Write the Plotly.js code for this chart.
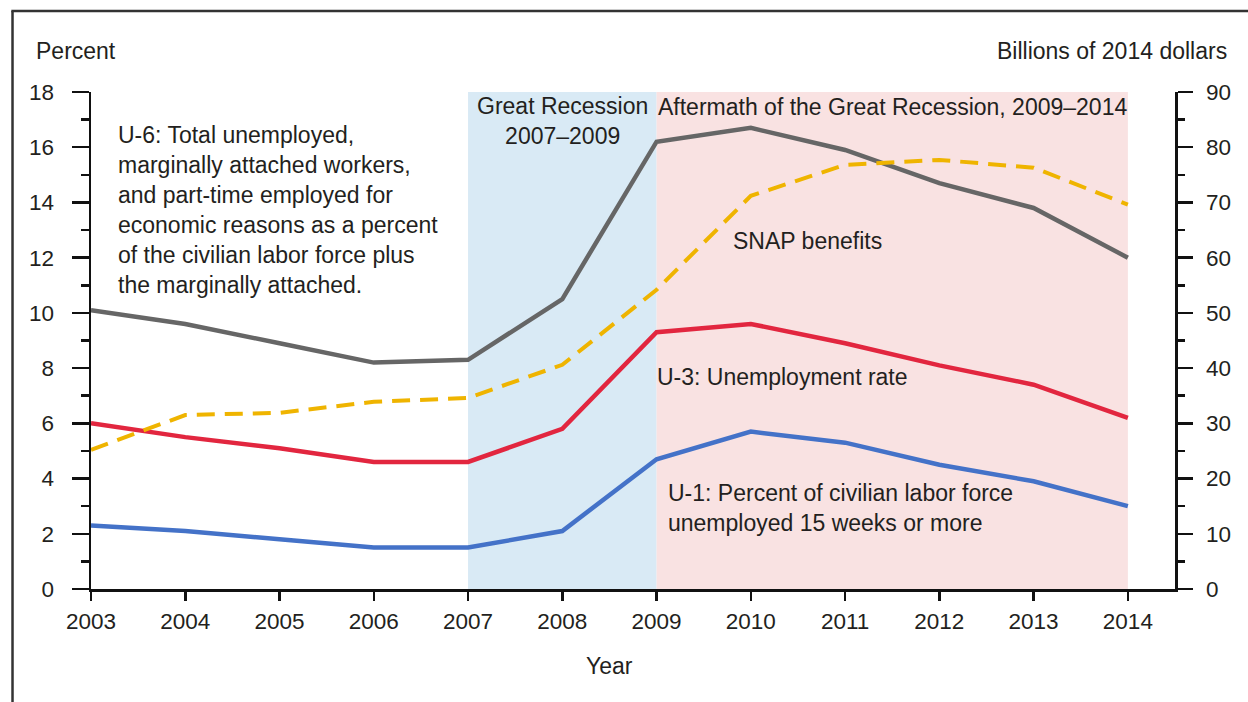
<!DOCTYPE html>
<html>
<head>
<meta charset="utf-8">
<script src="https://cdn.plot.ly/plotly-3.0.1.min.js"></script>
<style>
html,body{margin:0;padding:0;background:#fff;}
#chart{width:1248px;height:702px;}
</style>
</head>
<body>
<div id="chart"></div>
<script>
// ---- data ----
const years = [2003, 2004, 2005, 2006, 2007, 2008, 2009, 2010, 2011, 2012, 2013, 2014];
const u6 = [10.1, 9.6, 8.9, 8.2, 8.3, 10.5, 16.2, 16.7, 15.9, 14.7, 13.8, 12.0];
const u3 = [6.0, 5.5, 5.1, 4.6, 4.6, 5.8, 9.3, 9.6, 8.9, 8.1, 7.4, 6.2];
const u1 = [2.3, 2.1, 1.8, 1.5, 1.5, 2.1, 4.7, 5.7, 5.3, 4.5, 3.9, 3.0];
const snap = [25.2, 31.5, 31.9, 33.9, 34.6, 40.6, 54.2, 71.2, 76.8, 77.7, 76.3, 69.6];
const recession = [2007, 2009];
const aftermath = [2009, 2014];
const leftTicks = [0, 2, 4, 6, 8, 10, 12, 14, 16, 18];
const rightTicks = [0, 10, 20, 30, 40, 50, 60, 70, 80, 90];

const FONT = 'Liberation Sans, Arial, sans-serif';
const TXT = '#231f20';
const FS = 23;
const TFS = 22.5;

const traces = [
  {x: years, y: u6, mode: 'lines', line: {color: '#666666', width: 4.5}, name: 'U-6', hoverinfo: 'x+y'},
  {x: years, y: u3, mode: 'lines', line: {color: '#e2263f', width: 4.5}, name: 'U-3', hoverinfo: 'x+y'},
  {x: years, y: u1, mode: 'lines', line: {color: '#4472c8', width: 4.5}, name: 'U-1', hoverinfo: 'x+y'},
  {x: years, y: snap, mode: 'lines', yaxis: 'y2', line: {color: '#efb400', width: 4, dash: '18px,10px'}, name: 'SNAP benefits', hoverinfo: 'x+y'}
];

function ann(text, x, y, xanchor, extra) {
  return Object.assign({text: text, x: x, y: y, xref: 'x', yref: 'y', xanchor: xanchor, yanchor: 'middle',
    showarrow: false, align: 'left', font: {family: FONT, size: FS, color: TXT}}, extra || {});
}

const layout = {
  width: 1248, height: 702,
  margin: {l: 91, r: 73, t: 92, b: 113},
  paper_bgcolor: '#ffffff', plot_bgcolor: 'rgba(0,0,0,0)',
  showlegend: false,
  font: {family: FONT, size: FS, color: TXT},
  xaxis: {
    range: [2003, 2014.5], tickvals: years, ticktext: years.map(String),
    showgrid: false, zeroline: false, showline: true, linecolor: '#111', linewidth: 2.5,
    ticks: 'outside', ticklen: 9, tickwidth: 2.5, tickcolor: '#111',
    ticklabelstandoff: 1,
    tickfont: {family: FONT, size: TFS, color: TXT}, fixedrange: true
  },
  yaxis: {
    range: [0, 18], tickvals: leftTicks, showgrid: false, zeroline: false,
    showline: true, linecolor: '#111', linewidth: 2.5,
    ticks: 'outside', ticklen: 17, tickwidth: 2.5, tickcolor: '#111',
    minor: {dtick: 1, ticks: 'outside', ticklen: 8, tickwidth: 2.5, tickcolor: '#111'},
    ticklabelstandoff: 13,
    tickfont: {family: FONT, size: TFS, color: TXT}, fixedrange: true
  },
  yaxis2: {
    range: [0, 90], tickvals: rightTicks, overlaying: 'y', side: 'right', anchor: 'x',
    showgrid: false, zeroline: false, showline: true, linecolor: '#111', linewidth: 2.5,
    ticks: 'outside', ticklen: 15, tickwidth: 2.5, tickcolor: '#111',
    minor: {dtick: 5, ticks: 'outside', ticklen: 7, tickwidth: 2.5, tickcolor: '#111'},
    ticklabelstandoff: 9,
    tickfont: {family: FONT, size: TFS, color: TXT}, fixedrange: true
  },
  shapes: [
    {type: 'rect', xref: 'x', yref: 'paper', x0: recession[0], x1: recession[1], y0: 0, y1: 1,
     fillcolor: '#d9eaf5', line: {width: 0}, layer: 'below'},
    {type: 'rect', xref: 'x', yref: 'paper', x0: aftermath[0], x1: aftermath[1], y0: 0, y1: 1,
     fillcolor: '#f9e2e2', line: {width: 0}, layer: 'below'},
    // outer frame (left and top borders)
    {type: 'line', xref: 'paper', yref: 'paper', x0: -0.0724, x1: -0.0724, y0: 1.163, y1: -0.26,
     line: {color: '#333333', width: 2.5}},
    {type: 'line', xref: 'paper', yref: 'paper', x0: -0.0735, x1: 1.1, y0: 1.163, y1: 1.163,
     line: {color: '#333333', width: 2.5}}
  ],
  annotations: [
    {text: 'Percent', xref: 'paper', yref: 'paper', x: -0.0525, y: 1.0825, xanchor: 'left', yanchor: 'middle',
     showarrow: false, font: {family: FONT, size: FS, color: TXT}},
    {text: 'Billions of 2014 dollars', xref: 'paper', yref: 'paper', x: 1.050, y: 1.0825, xanchor: 'right', yanchor: 'middle',
     showarrow: false, font: {family: FONT, size: FS, color: TXT}},
    ann('Great Recession<br>2007–2009', 2008.0, 16.95, 'center', {align: 'center'}),
    ann('Aftermath of the Great Recession, 2009–2014', 2008.99, 17.46, 'left'),
    ann('U-6: Total unemployed,<br>marginally attached workers,<br>and part-time employed for<br>economic reasons as a percent<br>of the civilian labor force plus<br>the marginally attached.', 2003.26, 13.73, 'left'),
    ann('SNAP benefits', 2009.79, 12.6, 'left'),
    ann('U-3: Unemployment rate', 2008.98, 7.68, 'left'),
    ann('U-1: Percent of civilian labor force<br>unemployed 15 weeks or more', 2009.1, 2.95, 'left'),
    {text: 'Year', xref: 'x', yref: 'paper', x: 2008.5, y: -0.155, xanchor: 'center', yanchor: 'middle',
     showarrow: false, font: {family: FONT, size: FS, color: TXT}}
  ]
};

Plotly.newPlot('chart', traces, layout, {displayModeBar: false, staticPlot: true});
</script>
</body>
</html>
